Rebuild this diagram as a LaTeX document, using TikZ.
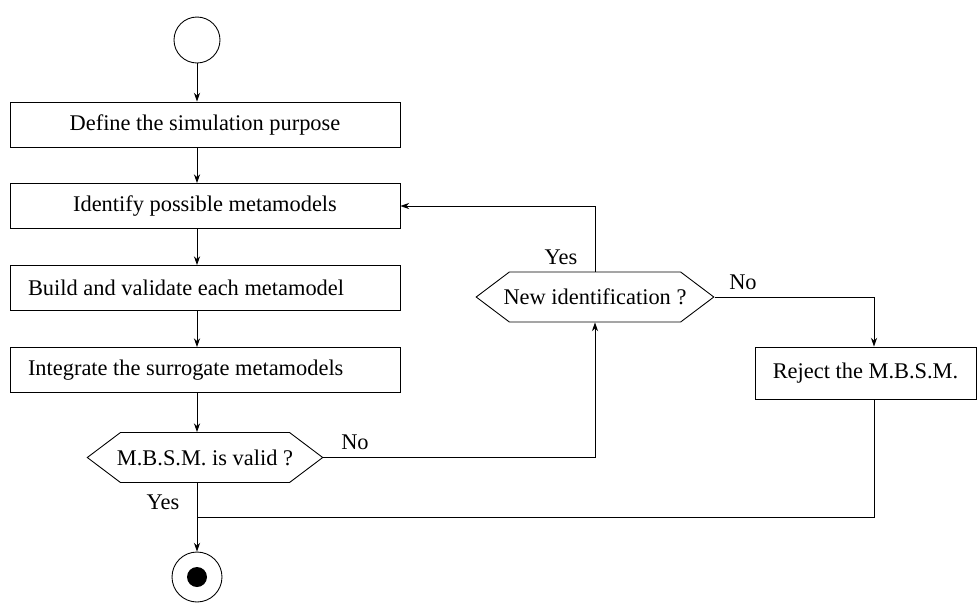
\documentclass[tikz,border=0pt]{standalone}
\usepackage{fontspec}
\setmainfont{Liberation Serif}
\usetikzlibrary{arrows.meta,shapes.symbols}
\tikzset{
  attivita/.style={draw,rectangle,minimum width=7.8cm,minimum height=0.9cm,inner sep=2pt},
  attivitasx/.style={attivita,text width=7.08cm,inner xsep=0.36cm,align=flush left},
  scelta/.style={draw,signal,signal to=west and east,signal pointer angle=74,minimum width=1cm,minimum height=1cm,inner ysep=1pt,inner xsep=-2pt},
  freccia/.style={-{Stealth[length=5pt,width=3.5pt]}},
}
\begin{document}
\begin{tikzpicture}[x=0.02cm,y=-0.02cm,line width=0.5pt,font=\fontsize{12.75}{15}\selectfont]
  \useasboundingbox (0,0) rectangle (980,603);
  %stato iniziale
  \node[draw,circle,minimum size=0.92cm] (inizio) at (197,40) {};

  %attività
  \node[attivita] (scopo) at (205,124.5) {Define the simulation purpose};
  \node[attivita] (identifica) at (205,206) {Identify possible metamodels};
  \node[attivitasx] (costruisci) at (205,288) {Build and validate each metamodel};
  \node[attivitasx] (integra) at (205,370) {Integrate the surrogate metamodels};
  \node[draw,rectangle,minimum width=4.42cm,minimum height=1.04cm] (rifiuta) at (865.5,373) {Reject the M.B.S.M.};

  %decisioni
  \node[scelta] (valido) at (205,457.5) {M.B.S.M. is valid ?};
  \node[scelta,inner xsep=-3.3pt] (nuova) at (595,297) {New identification ?};

  %stato finale
  \node[draw,circle,minimum size=1cm] (fine) at (197,577) {};
  \node[circle,fill,minimum size=0.4cm,inner sep=0pt] (punto) at (fine) {};
  \coordinate (giunto) at (874,517);

  %frecce
  \draw[freccia] (inizio.south) -- (inizio |- scopo.north);
  \draw[freccia] (inizio |- scopo.south) -- (inizio |- identifica.north);
  \draw[freccia] (inizio |- identifica.south) -- (inizio |- costruisci.north);
  \draw[freccia] (inizio |- costruisci.south) -- (inizio |- integra.north);
  \draw[freccia] (inizio |- integra.south) -- (inizio |- valido.north);
  \draw[freccia] (inizio |- valido.south) -- (fine.north);
  \draw[freccia] (valido.east) -| (nuova.south);
  \draw[freccia] (nuova.north) |- (identifica.east);
  \draw[freccia] (nuova.east) -| (giunto |- rifiuta.north);
  \draw (giunto |- rifiuta.south) -- (giunto) -- (giunto -| inizio);

  %etichette
  \node (noA) at (355,442) {No};
  \node (siA) at (163,502) {Yes};
  \node (siB) at (561,257) {Yes};
  \node (noB) at (743,282) {No};
\end{tikzpicture}
\end{document}
